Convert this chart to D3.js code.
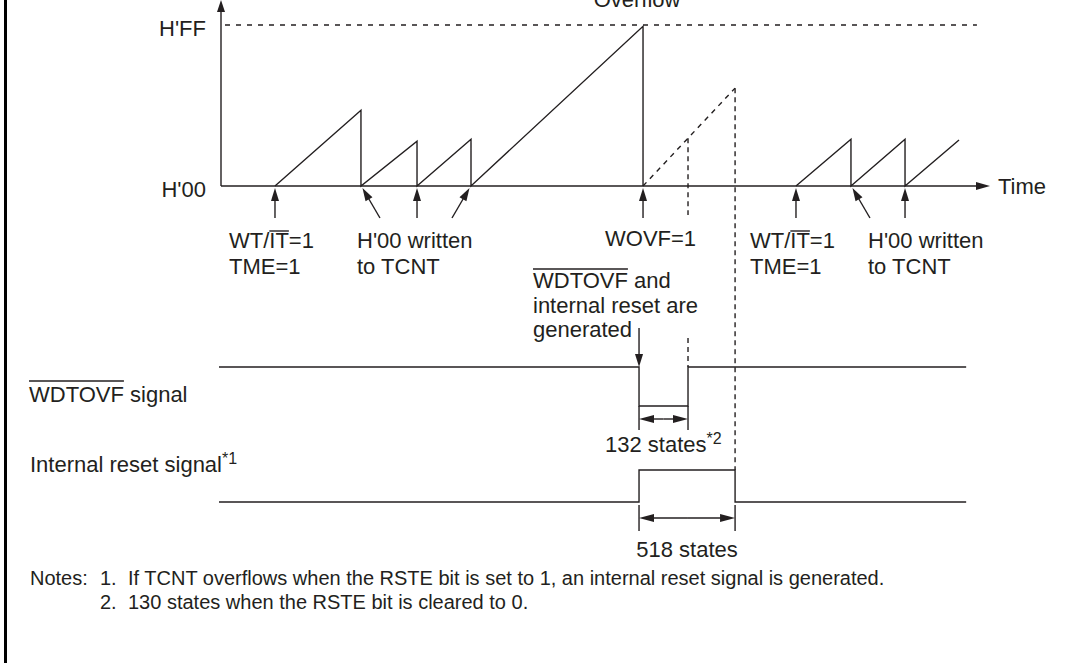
<!DOCTYPE html>
<html><head><meta charset="utf-8">
<script src="https://cdn.jsdelivr.net/npm/d3@7"></script>
<style>
html,body{margin:0;padding:0;background:#fff;}
svg{display:block;background:#fff;}
text{font-family:"Liberation Sans", Arial, Helvetica, sans-serif; fill:#231f20;}
</style></head><body>
<svg id="chart" width="1068" height="663"></svg>
<script>
// ---------------- data ----------------
const timeDomain = [0, 100];           // arbitrary time units
const countDomain = [0, 255];          // TCNT value
const countTicks = [255, 0];
const countTickLabels = ["H'FF", "H'00"];
// TCNT count (solid): [time, count]
const counterRun1 = [[7.02,0],[18.2,120],[18.2,0],[25.49,71],[25.49,0],[32.51,74],[32.51,0],[54.88,253],[54.88,0]];
const counterRun2 = [[74.77,0],[81.92,74],[81.92,0],[88.95,74],[88.95,0],[95.97,73]];
const counterIfNoReset = [[54.88,0],[66.85,155]];
// signals: [time, level]
const wdtovfSignal = [[-0.26,1],[54.36,1],[54.36,0],[60.73,0],[60.73,1],[96.9,1]];
const resetSignal  = [[-0.26,0],[54.36,0],[54.36,1],[66.85,1],[66.85,0],[96.9,0]];
// event markers under the time axis: time, lean of arrow tail (-1 left, 0 vertical, 1 right)
const eventTimes = [7.02, 18.2, 25.49, 32.51, 54.88, 74.77, 81.92, 88.95];
const eventLeans = [0, 1, 0, -1, 0, 0, 1, 0];
const timeEnd = 100;
const overflowEnd = 98.3;
const wdtEnd = 60.73;
const resetEnd = 66.85;
const signalStart = 54.36;
const labelsEvents = [["WT/IT=1","TME=1"],["H'00 written","to TCNT"],["WOVF=1"],["WT/IT=1","TME=1"],["H'00 written","to TCNT"]];
const labelGenerated = ["WDTOVF and","internal reset are","generated"];
const notes = ["If TCNT overflows when the RSTE bit is set to 1, an internal reset signal is generated.",
               "130 states when the RSTE bit is cleared to 0."];

// ---------------- drawing ----------------
const INK = "#231f20";
const LW = 1.4;
const svg = d3.select("#chart");
svg.append("rect").attr("width",1068).attr("height",663).attr("fill","#fff");

const x  = d3.scaleLinear().domain(timeDomain).range([221, 990]);
const yC = d3.scaleLinear().domain(countDomain).range([186, 25]);
const yW = d3.scaleLinear().domain([0,1]).range([406, 367]);
const yR = d3.scaleLinear().domain([0,1]).range([502, 470]);

// left frame line
svg.append("line").attr("x1",5.5).attr("x2",5.5).attr("y1",0).attr("y2",663)
  .attr("stroke","#000").attr("stroke-width",3);

function head(tx, ty, angle, len, half){
  const bx = tx - len*Math.cos(angle), by = ty - len*Math.sin(angle);
  const px = -Math.sin(angle)*half, py = Math.cos(angle)*half;
  svg.append("path").attr("d",`M${tx},${ty}L${bx+px},${by+py}L${bx-px},${by-py}Z`)
    .attr("fill",INK).attr("stroke","none");
}
function seg(x1,y1,x2,y2,dash){
  const l = svg.append("line").attr("x1",x1).attr("y1",y1).attr("x2",x2).attr("y2",y2)
    .attr("stroke",INK).attr("stroke-width",LW);
  if(dash) l.attr("stroke-dasharray",dash);
  return l;
}
function arrow(x1,y1,x2,y2,len=13,half=4){
  const a = Math.atan2(y2-y1,x2-x1);
  seg(x1,y1,x2-Math.cos(a)*(len-2),y2-Math.sin(a)*(len-2));
  head(x2,y2,a,len,half);
}
function txt(s,px,py,size=22,anchor="start"){
  return svg.append("text").attr("x",px).attr("y",py).attr("font-size",size)
    .attr("text-anchor",anchor).text(s);
}
function overline(t, i0, i1, dy){
  const n = t.node();
  const xs = n.getStartPositionOfChar(i0).x;
  const xe = n.getEndPositionOfChar(i1).x;
  const yy = +t.attr("y") - dy;
  seg(xs, yy, xe, yy);
}

// y axis (count) with labels
const yAxis = d3.axisLeft(yC).tickValues(countTicks)
  .tickFormat((d,i)=>countTickLabels[i]).tickSize(0).tickPadding(15);
const gy = svg.append("g").attr("transform",`translate(${x(0)},0)`).call(yAxis);
gy.select(".domain").remove();
gy.selectAll("text").attr("font-size",22).attr("dy","0.46em")
  .attr("font-family",'"Liberation Sans", Arial, sans-serif').attr("fill",INK);
arrow(x(0), yC(0), x(0), 0, 12, 4);
// time axis
arrow(x(0), yC(0), x(timeEnd), yC(0), 14, 4);
txt("Time", x(timeEnd)+8, yC(0)+8);
// H'FF dashed
seg(x(0)+4, yC(255), x(overflowEnd), yC(255), "5,6");
txt("Overflow", x(54.88)-6, 7, 22, "middle");

// counter lines
const lc = d3.line().x(d=>x(d[0])).y(d=>yC(d[1]));
[counterRun1, counterRun2].forEach(run=>{
  svg.append("path").attr("d",lc(run)).attr("fill","none").attr("stroke",INK)
    .attr("stroke-width",LW).attr("stroke-linejoin","miter");
});
svg.append("path").attr("d",lc(counterIfNoReset)).attr("fill","none").attr("stroke",INK)
  .attr("stroke-width",LW).attr("stroke-dasharray","5,5");

// dashed verticals
const rampAt = t => counterIfNoReset[0][1] + (counterIfNoReset[1][1]-counterIfNoReset[0][1])*
  (t-counterIfNoReset[0][0])/(counterIfNoReset[1][0]-counterIfNoReset[0][0]);
seg(x(wdtEnd), yC(rampAt(wdtEnd)), x(wdtEnd), 215, "5,4");
seg(x(wdtEnd), 338, x(wdtEnd), yW(1), "5,4");
seg(x(resetEnd), yC(rampAt(resetEnd)), x(resetEnd), yR(1), "5,4");

// event arrows
eventTimes.forEach((t,i)=>{
  const tipX = x(t) + eventLeans[i]*1.5, tipY = yC(0)+2;
  const tailX = x(t) + eventLeans[i]*19, tailY = 218;
  arrow(tailX, tailY, tipX, tipY, 13, 4);
});

// event labels
let t1 = txt(labelsEvents[0][0], 229, 248); overline(t1, 3, 4, 17);
txt(labelsEvents[0][1], 229, 274);
txt(labelsEvents[1][0], 357, 248); txt(labelsEvents[1][1], 357, 274);
txt(labelsEvents[2][0], 605, 246);
let t2 = txt(labelsEvents[3][0], 750, 248); overline(t2, 3, 4, 17);
txt(labelsEvents[3][1], 750, 274);
txt(labelsEvents[4][0], 868, 248); txt(labelsEvents[4][1], 868, 274);

let g1 = txt(labelGenerated[0], 533, 288); overline(g1, 0, 5, 19);
txt(labelGenerated[1], 533, 313);
txt(labelGenerated[2], 533, 337);
arrow(x(signalStart), 328, x(signalStart), yW(1), 13, 4);

// signals
const lw = d3.line().x(d=>x(d[0])).y(d=>yW(d[1]));
const lr = d3.line().x(d=>x(d[0])).y(d=>yR(d[1]));
svg.append("path").attr("d",lw(wdtovfSignal)).attr("fill","none").attr("stroke",INK).attr("stroke-width",LW);
svg.append("path").attr("d",lr(resetSignal)).attr("fill","none").attr("stroke",INK).attr("stroke-width",LW);

let ws = txt("WDTOVF signal", 29, 402); overline(ws, 0, 5, 21);
const irs = txt("Internal reset signal", 30, 472);
irs.append("tspan").attr("font-size",16).attr("dy",-8).text("*1");

// dimension arrows
function dim(t0, t1, yy, yTop, yBot){
  seg(x(t0), yTop, x(t0), yBot);
  seg(x(t1), yTop, x(t1), yBot);
  const m = (x(t0)+x(t1))/2;
  arrow(m, yy, x(t0), yy, 15, 4);
  arrow(m, yy, x(t1), yy, 15, 4);
}
dim(signalStart, wdtEnd, 419, yW(0), 430);
const s132 = txt("132 states", 605, 452);
s132.append("tspan").attr("font-size",16).attr("dy",-8).text("*2");
dim(signalStart, resetEnd, 518, 505, 531);
txt("518 states", (x(signalStart)+x(resetEnd))/2, 557, 22, "middle");

// notes
txt("Notes:", 30, 585, 20);
txt("1.", 100, 585, 20);
txt(notes[0], 128, 585, 20);
txt("2.", 100, 609, 20);
txt(notes[1], 128, 609, 20);
</script>
</body></html>
